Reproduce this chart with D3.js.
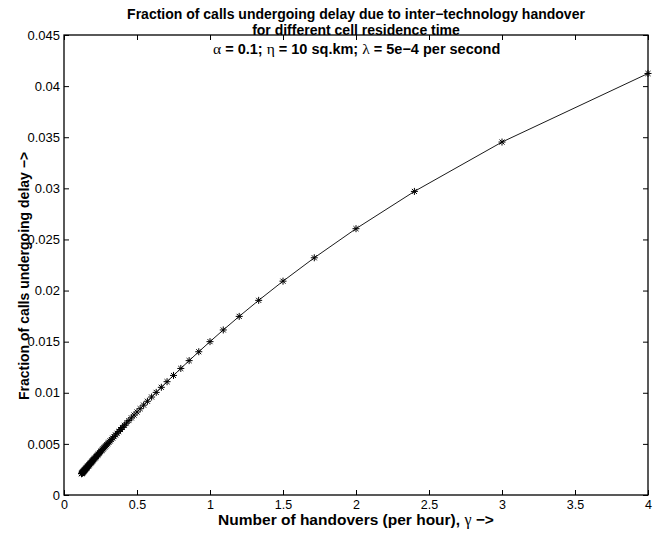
<!DOCTYPE html>
<html>
<head>
<meta charset="utf-8">
<script src="https://cdn.jsdelivr.net/npm/d3@7"></script>
<style>
body { margin: 0; background: #fff; }
svg { font-family: "Liberation Sans", Arial, sans-serif; }
.tick text { font-size: 13px; fill: #000; }
.xaxis .tick text { font-size: 12.5px; }
</style>
</head>
<body>
<svg id="chart" width="661" height="533"></svg>
<script>
// handover rate (per hour)
const gammaValues = [4, 3, 2.4, 2, 1.7143, 1.5, 1.3333, 1.2, 1.0909, 1, 0.9231, 0.8571, 0.8, 0.75,
    0.7059, 0.6667, 0.6316, 0.6, 0.5714, 0.5455, 0.5217, 0.5, 0.48, 0.4615, 0.4444, 0.4286, 0.4138,
    0.4, 0.3871, 0.375, 0.3636, 0.3529, 0.3429, 0.3333, 0.3243, 0.3158, 0.3077, 0.3, 0.2927, 0.2857,
    0.2791, 0.2727, 0.2667, 0.2609, 0.2553, 0.25, 0.2449, 0.24, 0.2353, 0.2308, 0.2264, 0.2222,
    0.2182, 0.2143, 0.2105, 0.2069, 0.2034, 0.2, 0.1967, 0.1935, 0.1905, 0.1875, 0.1846, 0.1818,
    0.1791, 0.1765, 0.1739, 0.1714, 0.169, 0.1667, 0.1644, 0.1622, 0.16, 0.1579, 0.1558, 0.1538,
    0.1519, 0.15, 0.1481, 0.1463, 0.1446, 0.1429, 0.1412, 0.1395, 0.1379, 0.1364, 0.1348, 0.1333,
    0.1319, 0.1304, 0.129, 0.1277, 0.1263, 0.125, 0.1237, 0.1224, 0.1212, 0.12];

// fraction of calls undergoing delay
const delayFraction = [0.041236, 0.034528, 0.029698, 0.026053, 0.023205, 0.020918, 0.019042,
    0.017474, 0.016145, 0.015004, 0.014014, 0.013146, 0.012379, 0.011697, 0.011086, 0.010536,
    0.010038, 0.009585, 0.009171, 0.008791, 0.008441, 0.008118, 0.007819, 0.007542, 0.007283,
    0.007041, 0.006815, 0.006603, 0.006404, 0.006216, 0.00604, 0.005873, 0.005714, 0.005565,
    0.005423, 0.005287, 0.005159, 0.005037, 0.00492, 0.004808, 0.004702, 0.0046, 0.004502,
    0.004409, 0.004319, 0.004233, 0.00415, 0.004071, 0.003994, 0.00392, 0.003849, 0.003781,
    0.003715, 0.003651, 0.003589, 0.003529, 0.003472, 0.003416, 0.003362, 0.003309, 0.003258,
    0.003209, 0.003161, 0.003115, 0.00307, 0.003026, 0.002984, 0.002942, 0.002902, 0.002863,
    0.002825, 0.002788, 0.002752, 0.002716, 0.002682, 0.002649, 0.002616, 0.002584, 0.002553,
    0.002523, 0.002493, 0.002464, 0.002436, 0.002408, 0.002381, 0.002355, 0.002329, 0.002304,
    0.002279, 0.002255, 0.002231, 0.002208, 0.002185, 0.002163, 0.002141, 0.00212, 0.002099,
    0.002078];

const xTickValues = [0, 0.5, 1, 1.5, 2, 2.5, 3, 3.5, 4];
const yTickValues = [0, 0.005, 0.01, 0.015, 0.02, 0.025, 0.03, 0.035, 0.04, 0.045];

const margin = {left: 64, right: 13, top: 35, bottom: 38};
const width = 661, height = 533;

const svg = d3.select("#chart");

const x = d3.scaleLinear().domain([0, 4]).range([margin.left, width - margin.right]);
const y = d3.scaleLinear().domain([0, 0.045]).range([height - margin.bottom, margin.top]);

const fmt = v => String(+v.toFixed(3));

// axes, ticks pointing inward like matlab
svg.append("g")
    .attr("class", "xaxis")
    .attr("transform", `translate(0,${y(0)})`)
    .call(d3.axisBottom(x).tickValues(xTickValues).tickFormat(fmt).tickSizeInner(-5).tickSizeOuter(0).tickPadding(5));
svg.append("g")
    .attr("transform", `translate(0,${y(0.045)})`)
    .call(d3.axisTop(x).tickValues(xTickValues).tickFormat("").tickSizeInner(-5).tickSizeOuter(0));
svg.append("g")
    .attr("transform", `translate(${x(0)},0)`)
    .call(d3.axisLeft(y).tickValues(yTickValues).tickFormat(fmt).tickSizeInner(-5).tickSizeOuter(0).tickPadding(4));
svg.append("g")
    .attr("transform", `translate(${x(4)},0)`)
    .call(d3.axisRight(y).tickValues(yTickValues).tickFormat("").tickSizeInner(-5).tickSizeOuter(0));

svg.selectAll(".domain").remove();
svg.selectAll(".tick line").attr("stroke", "#000");
svg.selectAll(".tick text").attr("fill", "#000");

//box around plot area
svg.append("rect")
    .attr("x", x(0))
    .attr("y", y(0.045))
    .attr("width", x(4) - x(0))
    .attr("height", y(0) - y(0.045))
    .attr("fill", "none")
    .attr("stroke", "#000")
    .attr("stroke-width", 1.3);

const points = gammaValues.map((g, i) => [g, delayFraction[i]]);

svg.append("path")
    .datum(points)
    .attr("fill", "none")
    .attr("stroke", "#000")
    .attr("stroke-width", 0.9)
    .attr("d", d3.line().x(d => x(d[0])).y(d => y(d[1])));

// asterisk markers
const r = 3.5, rd = r * 0.72;
const starPath = `M${-r},0L${r},0M0,${-r}L0,${r}M${-rd},${-rd}L${rd},${rd}M${-rd},${rd}L${rd},${-rd}`;
svg.append("g")
    .selectAll("path")
    .data(points)
    .join("path")
    .attr("transform", d => `translate(${x(d[0])},${y(d[1])})`)
    .attr("d", starPath)
    .attr("fill", "none")
    .attr("stroke", "#000")
    .attr("stroke-width", 1);

// titles and labels
const cx = (x(0) + x(4)) / 2;
const title = svg.append("g")
    .attr("font-weight", "bold")
    .attr("font-size", "14px")
    .attr("text-anchor", "middle");
title.append("text").attr("x", cx).attr("y", 18.5).text("Fraction of calls undergoing delay due to inter\u2212technology handover");
title.append("text").attr("x", cx).attr("y", 35).text("for different cell residence time");

const greek = "Liberation Serif, serif";
const sub = svg.append("text")
    .attr("x", 213)
    .attr("y", 54)
    .attr("font-size", "14.5px")
    .attr("font-weight", "bold");
sub.append("tspan").attr("font-family", greek).attr("font-weight", "normal").attr("font-size", "15.5px").text("\u03b1");
sub.append("tspan").text(" = 0.1; ");
sub.append("tspan").attr("font-family", greek).attr("font-weight", "normal").attr("font-size", "15.5px").text("\u03b7");
sub.append("tspan").text(" = 10 sq.km; ");
sub.append("tspan").attr("font-family", greek).attr("font-weight", "normal").attr("font-size", "15.5px").text("\u03bb");
sub.append("tspan").text(" = 5e\u22124 per second");

const xLabel = svg.append("text")
    .attr("x", cx)
    .attr("y", 525)
    .attr("text-anchor", "middle")
    .attr("font-weight", "bold")
    .attr("font-size", "15.5px");
xLabel.append("tspan").text("Number of handovers (per hour), ");
xLabel.append("tspan").attr("font-family", greek).attr("font-weight", "normal").attr("font-size", "16px").text("\u03b3");
xLabel.append("tspan").text(" \u2212>");

svg.append("text")
    .attr("transform", `translate(29,276) rotate(-90)`)
    .attr("text-anchor", "middle")
    .attr("font-weight", "bold")
    .attr("font-size", "14px")
    .text("Fraction of calls undergoing delay \u2212>");
</script>
</body>
</html>
